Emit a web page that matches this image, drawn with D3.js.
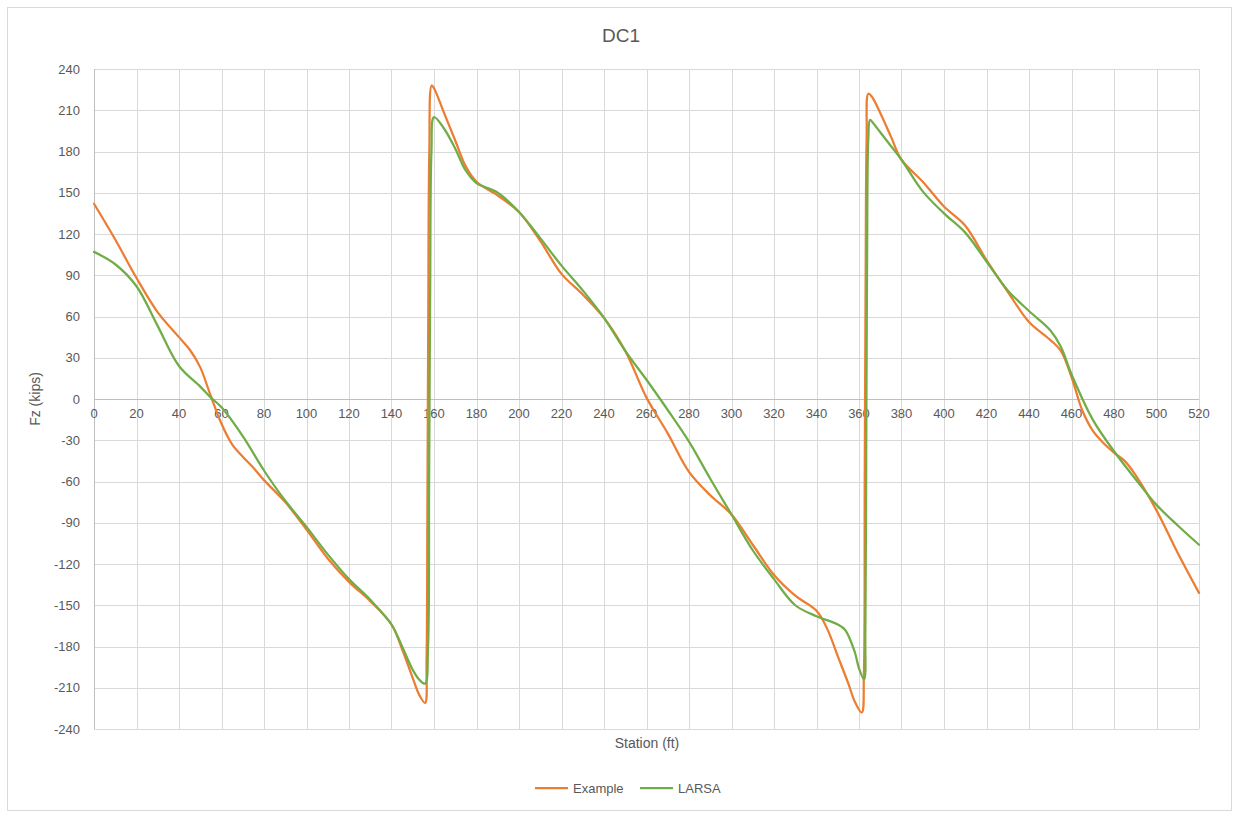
<!DOCTYPE html>
<html>
<head>
<meta charset="utf-8">
<script src="https://cdn.jsdelivr.net/npm/d3@7"></script>
<style>
  html, body { margin: 0; padding: 0; background: #fff; }
  svg { display: block; font-family: "Liberation Sans", "Noto Sans", Arial, sans-serif; }
</style>
</head>
<body>
<svg id="chart" width="1239" height="817"></svg>
<script>
const chartTitle = "DC1";
const xTitle = "Station (ft)";
const yTitle = "Fz (kips)";
const xTicks = d3.range(0, 521, 20);
const yTicks = d3.range(-240, 241, 30);

const exampleX = [0, 10, 20, 30, 40, 45, 50, 55, 60, 65, 70, 75, 80, 90, 100, 110, 120, 130, 140, 145, 150, 153, 155.8, 156.5, 156.9, 157.3, 157.8, 158.9, 160, 165, 170, 175, 180, 190, 200, 210, 220, 230, 240, 250, 260, 270, 280, 290, 300, 310, 320, 330, 340, 345, 350, 355, 358, 361.3, 362.3, 362.7, 363.1, 363.6, 364.4, 366, 370, 375, 380, 390, 400, 410, 420, 430, 440, 450, 455, 460, 465, 470, 475, 480, 485, 490, 500, 510, 520];
const exampleY = [142, 116, 88, 63, 45, 36, 23, 2, -18, -33, -42, -50, -59, -75, -95, -116, -133, -147, -164, -182, -203, -215, -221, -190, -80, 60, 180, 228, 226, 207, 188, 169, 158, 148, 136, 115, 91, 76, 59, 35, 1, -25, -53, -70, -84, -106, -128, -143, -154, -167, -187, -207, -220, -228, -200, -60, 80, 190, 222, 220, 208, 191, 174, 158, 140, 126, 101, 78, 56, 43, 35, 16, -8, -23, -32, -39, -45, -55, -81, -112, -141];

const larsaX = [0, 10, 20, 30, 40, 50, 55, 60, 70, 80, 90, 100, 110, 120, 130, 140, 145, 150, 153, 155.8, 157.2, 157.7, 158.2, 158.8, 160, 165, 170, 175, 180, 190, 200, 210, 220, 230, 240, 250, 260, 270, 280, 290, 300, 310, 320, 330, 340, 350, 353.5, 358, 360, 362.4, 363.0, 363.4, 363.8, 364.4, 365.2, 367, 370, 375, 380, 390, 400, 410, 420, 430, 440, 450, 455, 460, 470, 480, 490, 500, 510, 520];
const larsaY = [107, 98, 82, 53, 24, 9, 1, -6, -27, -52, -74, -93, -113, -131, -146, -164, -180, -197, -204, -207, -180, -60, 80, 180, 205, 196, 182, 166, 157, 150, 136, 117, 97, 79, 59, 35, 14, -8, -31, -58, -84, -110, -131, -150, -158, -164, -168, -184, -196, -204, -170, -40, 100, 190, 203, 200, 194, 184, 174, 151, 135, 121, 100, 79, 64, 50, 38, 18, -15, -38, -58, -77, -92, -106];

const seriesNames = ["Example", "LARSA"];
const seriesColors = ["#ED7D31", "#70AD47"];

const svg = d3.select("#chart");
const W = 1239, H = 817;
const m = { left: 94, right: 1199, top: 69, bottom: 729 };

svg.append("rect").attr("x", 7.5).attr("y", 7.5).attr("width", W - 15).attr("height", H - 14)
  .attr("fill", "#fff").attr("stroke", "#d9d9d9").attr("stroke-width", 1);

const x = d3.scaleLinear().domain([0, 520]).range([m.left, m.right]);
const y = d3.scaleLinear().domain([-240, 240]).range([m.bottom, m.top]);

// gridlines
const grid = svg.append("g");
grid.selectAll("line.h").data(yTicks).join("line")
  .attr("x1", m.left).attr("x2", m.right)
  .attr("y1", d => Math.round(y(d)) + 0.5).attr("y2", d => Math.round(y(d)) + 0.5)
  .attr("stroke", "#d9d9d9").attr("stroke-width", 1);
grid.selectAll("line.v").data(xTicks.filter(d => d > 0)).join("line")
  .attr("y1", m.top).attr("y2", m.bottom)
  .attr("x1", d => Math.round(x(d)) + 0.5).attr("x2", d => Math.round(x(d)) + 0.5)
  .attr("stroke", "#d9d9d9").attr("stroke-width", 1);

// axes lines
svg.append("line").attr("x1", m.left + 0.5).attr("x2", m.left + 0.5).attr("y1", m.top).attr("y2", m.bottom)
  .attr("stroke", "#bfbfbf");
svg.append("line").attr("x1", m.left).attr("x2", m.right).attr("y1", Math.round(y(0)) + 0.5).attr("y2", Math.round(y(0)) + 0.5)
  .attr("stroke", "#bfbfbf");

// y tick labels
svg.append("g").selectAll("text").data(yTicks).join("text")
  .attr("x", 80).attr("y", d => y(d)).attr("dy", "0.35em")
  .attr("text-anchor", "end").attr("font-size", 13).attr("fill", "#595959")
  .text(d => d);

// x tick labels
svg.append("g").selectAll("text").data(xTicks).join("text")
  .attr("x", d => x(d)).attr("y", y(0) + 19)
  .attr("text-anchor", "middle").attr("font-size", 13).attr("fill", "#595959")
  .text(d => d);

// titles
svg.append("text").attr("x", 621).attr("y", 42).attr("text-anchor", "middle")
  .attr("font-size", 19).attr("fill", "#595959").text(chartTitle);
svg.append("text").attr("x", 647).attr("y", 748).attr("text-anchor", "middle")
  .attr("font-size", 14).attr("fill", "#595959").text(xTitle);
svg.append("text").attr("transform", "translate(40,399) rotate(-90)").attr("text-anchor", "middle")
  .attr("font-size", 14).attr("fill", "#595959").text(yTitle);

// lines
const line = d3.line().x(d => x(d[0])).y(d => y(d[1])).curve(d3.curveCatmullRom.alpha(0.5));
const data = [d3.zip(exampleX, exampleY), d3.zip(larsaX, larsaY)];
data.forEach((pts, i) => {
  svg.append("path").datum(pts).attr("d", line)
    .attr("fill", "none").attr("stroke", seriesColors[i]).attr("stroke-width", 2.25)
    .attr("stroke-linejoin", "round").attr("stroke-linecap", "round");
});

// legend
const legX = [535, 640];
seriesNames.forEach((name, i) => {
  const g = svg.append("g").attr("transform", `translate(${legX[i]},788)`);
  g.append("line").attr("x1", 0).attr("x2", 33).attr("y1", 0).attr("y2", 0)
    .attr("stroke", seriesColors[i]).attr("stroke-width", 2.25);
  g.append("text").attr("x", 38).attr("y", 0).attr("dy", "0.35em")
    .attr("font-size", 13).attr("fill", "#595959").text(name);
});
</script>
</body>
</html>
